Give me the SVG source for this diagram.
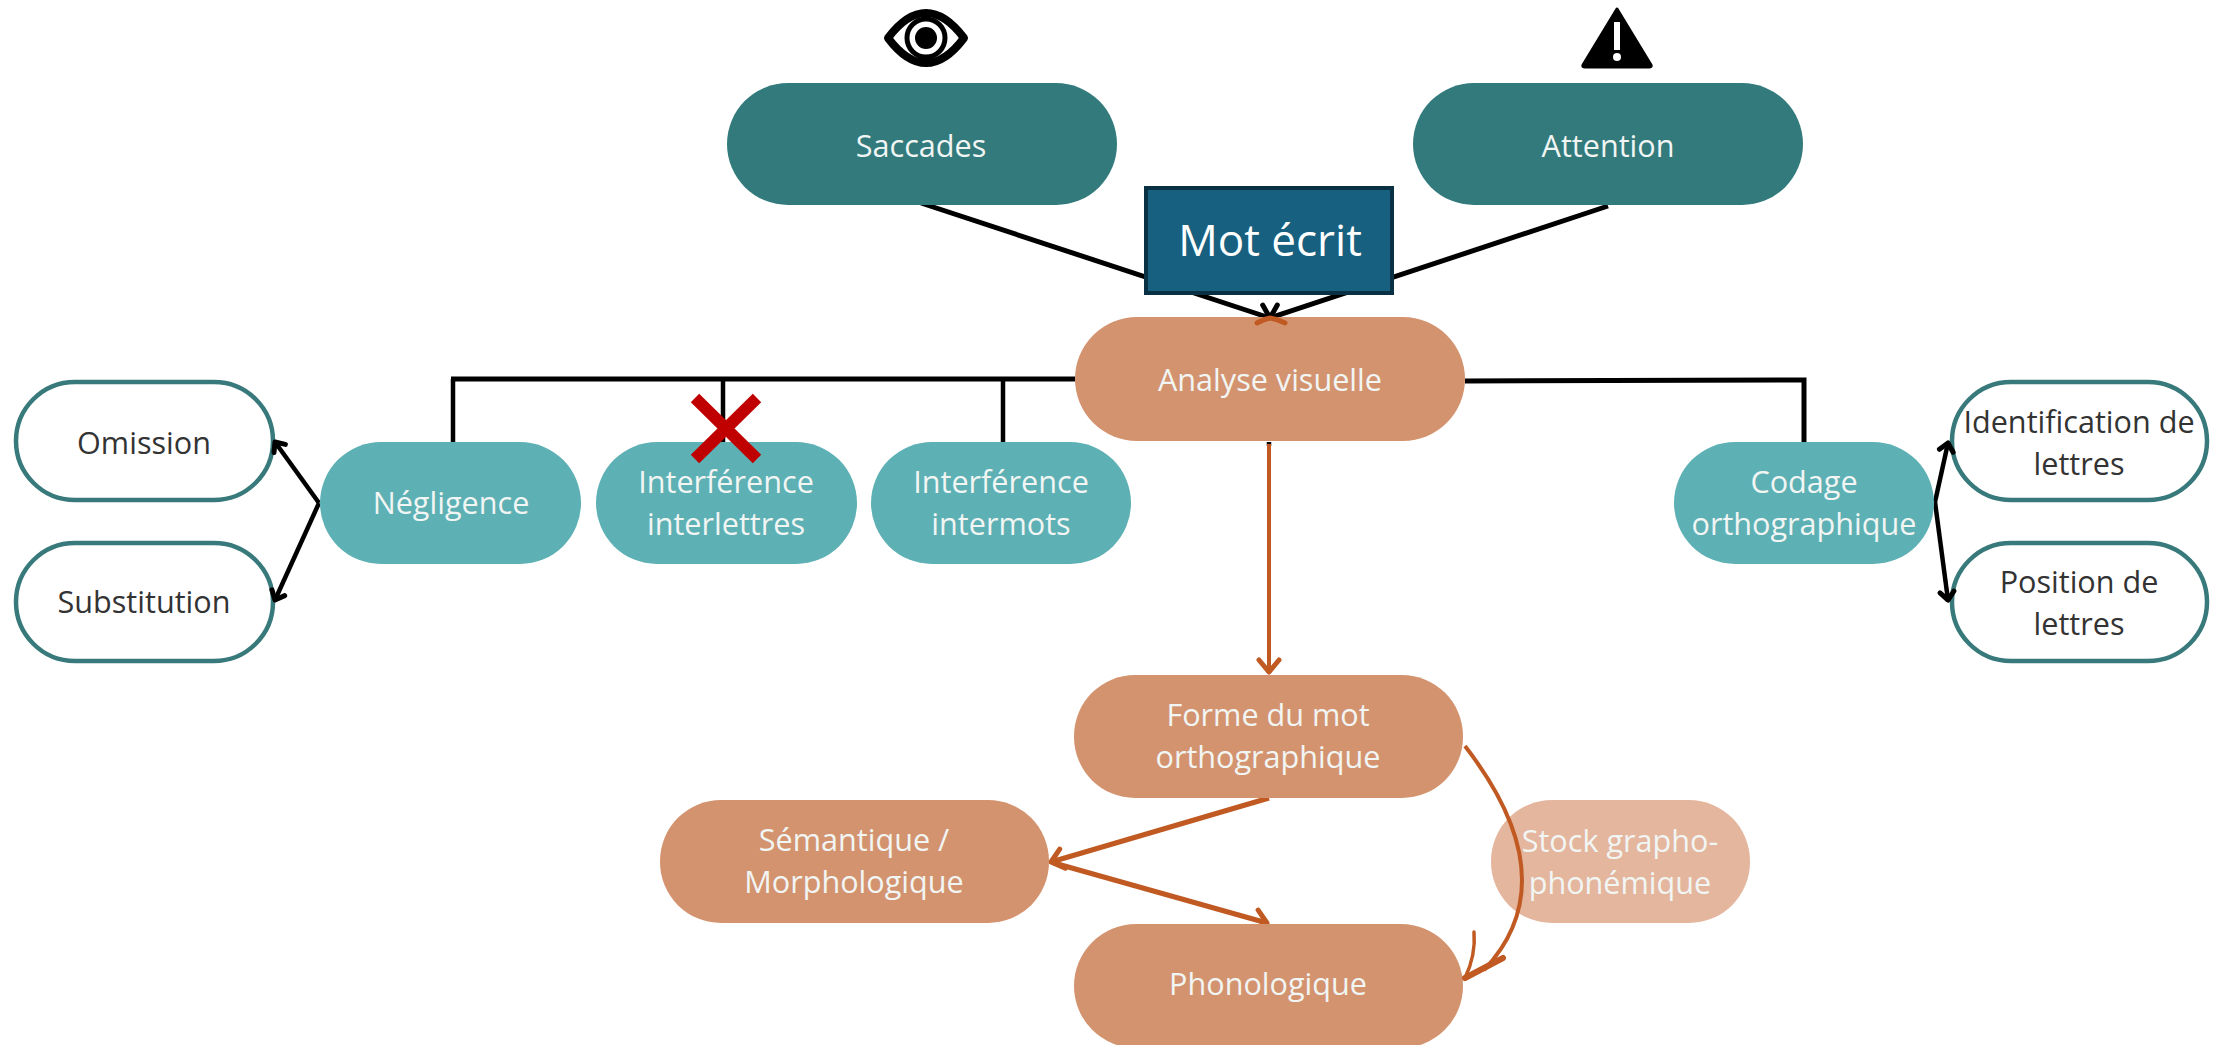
<svg xmlns="http://www.w3.org/2000/svg" width="2216" height="1045" viewBox="0 0 2216 1045">
<style>
text{font-family:"Open Sans","Noto Sans","Liberation Sans",sans-serif;font-size:30.6px;text-anchor:middle}
.w{fill:#f1f5f3;font-weight:500}.k{fill:#333}
.dark{fill:#327a7c}.mid{fill:#5db0b3}.or{fill:#d4936f}
.out{fill:#fff;stroke:#38797b;stroke-width:4.5}
.bl{fill:none;stroke:#000;stroke-width:5}.th{stroke-width:4.5}
.ob{fill:none;stroke:#c05a22;stroke-width:5}.ot{stroke-width:4}
.wing{fill:none;stroke-linecap:round;stroke-linejoin:round}
</style>
<defs>
<marker id="ak" markerWidth="28" markerHeight="28" refX="17" refY="13" orient="auto" markerUnits="userSpaceOnUse"><path class="wing" d="M6 3L17 13L6 23" stroke="#000" stroke-width="5"/></marker>
<marker id="as" markerWidth="28" markerHeight="28" refX="17" refY="13" orient="auto" markerUnits="userSpaceOnUse"><path class="wing" d="M9 6L17 13L9 20" stroke="#000" stroke-width="5"/></marker>
<marker id="ao" markerWidth="32" markerHeight="32" refX="20" refY="14" orient="auto" markerUnits="userSpaceOnUse"><path class="wing" d="M8 4L20 14L8 24" stroke="#c05a22" stroke-width="5"/></marker>
</defs>
<rect width="2216" height="1045" fill="#fff"/>
<g id="omission"><rect class="out" x="16" y="382" width="257" height="118" rx="59"/><text class="k" x="144" y="454">Omission</text></g>
<g id="substitution"><rect class="out" x="16" y="543" width="257" height="118" rx="59"/><text class="k" x="144" y="613">Substitution</text></g>
<g id="identification"><rect class="out" x="1952" y="382" width="255" height="118" rx="59"/><text class="k" x="2079" y="433">Identification de</text><text class="k" x="2079" y="475">lettres</text></g>
<g id="position"><rect class="out" x="1952" y="543" width="255" height="118" rx="59"/><text class="k" x="2079" y="593">Position de</text><text class="k" x="2079" y="635">lettres</text></g>
<g id="stock"><rect x="1491" y="800" width="259" height="123" rx="61" fill="#e5b69e"/><text class="w" x="1620" y="852">Stock grapho-</text><text class="w" x="1620" y="894">phonémique</text></g>
<g id="connectors">
<path class="bl" d="M921 203L1270 318" marker-end="url(#ak)"/>
<path class="bl" d="M1608 206L1270 318" marker-end="url(#ak)"/>
<path class="bl" d="M451 379H1075M1465 381L1804 380V442"/>
<path class="bl th" d="M453 379V442M723 379V442M1003 379V442"/>
<path class="bl th" d="M319 503L275 442" marker-end="url(#as)"/>
<path class="bl th" d="M319 503L275 600" marker-end="url(#as)"/>
<path class="bl th" d="M1935 502L1948 443" marker-end="url(#as)"/>
<path class="bl th" d="M1935 502L1948 600" marker-end="url(#as)"/>
<path class="bl th" d="M1269 442v4M1269 669v4"/>
<path class="ob ot" d="M1269 444V672" marker-end="url(#ao)"/>
<path class="ob" d="M1269 798L1051 862" marker-end="url(#ao)"/>
<path class="ob" d="M1054 863L1267 923" marker-end="url(#ao)"/>
</g>
<g id="saccades"><rect class="dark" x="727" y="83" width="390" height="122" rx="61"/><text class="w" x="921" y="157">Saccades</text></g>
<g id="attention"><rect class="dark" x="1413" y="83" width="390" height="122" rx="61"/><text class="w" x="1608" y="157">Attention</text></g>
<g id="mot"><rect x="1146" y="188" width="246" height="105" fill="#17607f" stroke="#0a3044" stroke-width="4"/><text x="1270" y="256" fill="#fff" style="font-size:44px">Mot écrit</text></g>
<g id="analyse"><rect class="or" x="1075" y="317" width="390" height="124" rx="62"/><path class="wing" d="M1257 323Q1264 319 1270 318Q1277 319 1285 323" stroke="#c05a22" stroke-width="5"/><text class="w" x="1270" y="391">Analyse visuelle</text></g>
<g id="negligence"><rect class="mid" x="320" y="442" width="261" height="122" rx="61"/><text class="w" x="451" y="514">Négligence</text></g>
<g id="interlettres"><rect class="mid" x="596" y="442" width="261" height="122" rx="61"/><text class="w" x="726" y="493">Interférence</text><text class="w" x="726" y="535">interlettres</text></g>
<g id="intermots"><rect class="mid" x="871" y="442" width="260" height="122" rx="61"/><text class="w" x="1001" y="493">Interférence</text><text class="w" x="1001" y="535">intermots</text></g>
<g id="codage"><rect class="mid" x="1674" y="442" width="260" height="122" rx="61"/><text class="w" x="1804" y="493">Codage</text><text class="w" x="1804" y="535">orthographique</text></g>
<g id="forme"><rect class="or" x="1074" y="675" width="389" height="123" rx="61"/><text class="w" x="1268" y="726">Forme du mot</text><text class="w" x="1268" y="768">orthographique</text></g>
<g id="semantique"><rect class="or" x="660" y="800" width="389" height="123" rx="61"/><text class="w" x="854" y="851">Sémantique /</text><text class="w" x="854" y="893">Morphologique</text></g>
<g id="phonologique"><rect class="or" x="1074" y="924" width="389" height="124" rx="62"/><text class="w" x="1268" y="995">Phonologique</text></g>
<path class="ob ot" d="M1465 746Q1522 820 1522 880Q1522 930 1484 970"/>
<path class="wing" d="M1474 932Q1476 955 1465 978" stroke="#c05a22" stroke-width="3.5"/>
<path class="wing" d="M1503 958L1465 978" stroke="#c05a22" stroke-width="6"/>
<path d="M695 398L757 459M757 398L695 459" stroke="#c00000" stroke-width="12" fill="none"/>
<g id="eye" fill="none" stroke="#000"><path d="M888 38C900 22 912 13 926 13C940 13 952 22 964 38C952 54 940 63 926 63C912 63 900 54 888 38Z" stroke-width="8" stroke-linejoin="round"/><circle cx="926" cy="38" r="19" stroke-width="5" fill="#fff"/><circle cx="926" cy="38" r="11" fill="#000" stroke="none"/></g>
<g id="warn"><path d="M1617 9L1651 65Q1652 67 1649 67H1585Q1582 67 1583 65Z" fill="#000" stroke="#000" stroke-width="3" stroke-linejoin="round"/><rect x="1614" y="22" width="6" height="28" fill="#fff"/><circle cx="1617" cy="57" r="4" fill="#fff"/></g>
</svg>
